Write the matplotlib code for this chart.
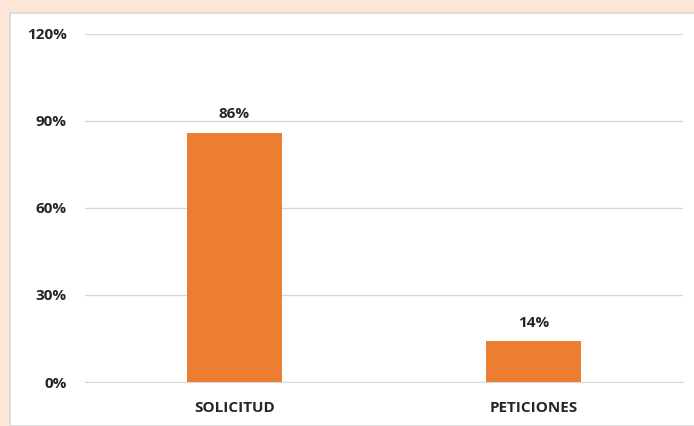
import matplotlib.pyplot as plt
from matplotlib.patches import Rectangle
from matplotlib.ticker import FuncFormatter

categories = ["SOLICITUD", "PETICIONES"]
percentages = [86, 14]
y_ticks = [0, 30, 60, 90, 120]

plt.rcParams["font.family"] = ["Open Sans", "DejaVu Sans"]

fig = plt.figure(figsize=(6.94, 4.26), dpi=100, facecolor="#fce6d8")

# white chart panel over the tinted slide background
panel = Rectangle((10 / 694, 0), 1, 1 - 13 / 426, transform=fig.transFigure,
                  facecolor="white", edgecolor="#d9d9d9", linewidth=1.2, zorder=-1)
fig.patches.append(panel)

ax = fig.add_axes([85 / 694, 1 - 382 / 426, 598 / 694, 348 / 426])
ax.set_facecolor("none")
ax.set_zorder(1)

x = range(len(categories))
bars = ax.bar(x, percentages, width=0.315, color="#ed7d31", zorder=3)
for rect, v in zip(bars, percentages):
    ax.text(rect.get_x() + rect.get_width() / 2, v + 4, f"{v}%",
            ha="center", va="bottom", fontsize=11, fontweight="bold", color="#262626")

ax.set_xlim(-0.5, 1.5)
ax.set_ylim(0, 120)
ax.set_yticks(y_ticks)
ax.yaxis.set_major_formatter(FuncFormatter(lambda v, _: f"{v:.0f}%"))
ax.set_xticks(list(x))
ax.set_xticklabels(categories)
ax.grid(axis="y", color="#d9d9d9", linewidth=1.0, zorder=0)
ax.tick_params(axis="both", length=0, labelsize=11, labelcolor="#262626")
ax.tick_params(axis="y", pad=13)
ax.tick_params(axis="x", pad=14)
for lbl in ax.get_xticklabels() + ax.get_yticklabels():
    lbl.set_fontweight("bold")
for side in ["top", "right", "left"]:
    ax.spines[side].set_visible(False)
ax.spines["bottom"].set_color("#d9d9d9")

fig.savefig("out.png", dpi=100, facecolor=fig.get_facecolor())
